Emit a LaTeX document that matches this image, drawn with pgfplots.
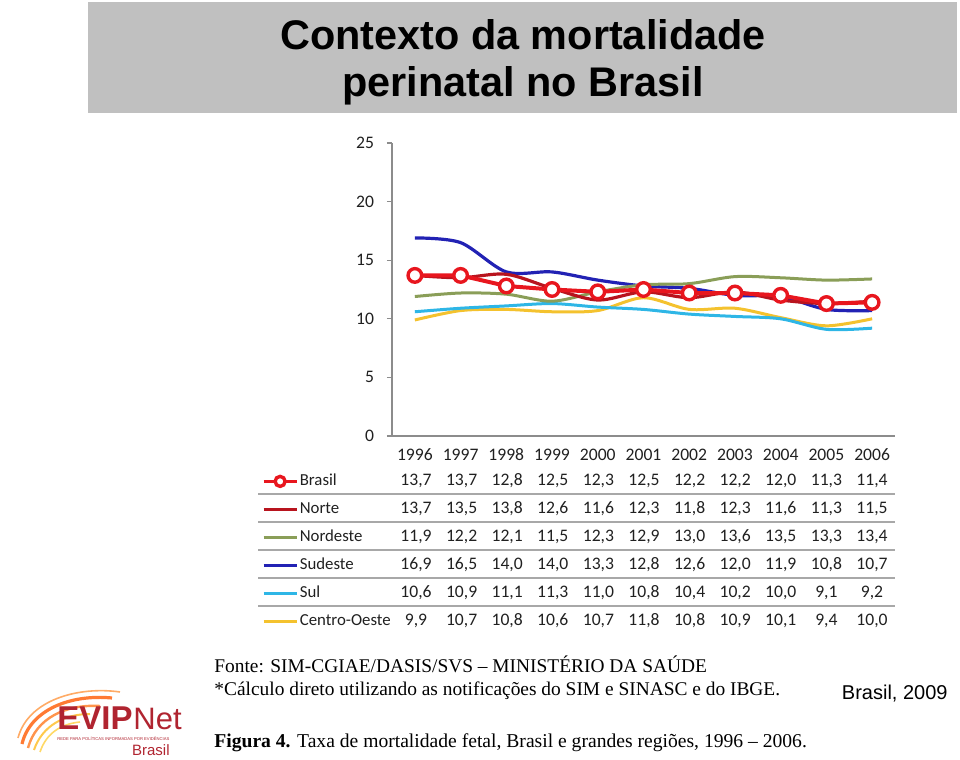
\documentclass[border=0pt]{standalone}
\usepackage{pgfplots}
\pgfplotsset{compat=1.18}
\usepackage{pgfplotstable}
\usepackage{fontspec}
\setmainfont{Liberation Sans}
\newfontfamily\cali{Carlito}
\newfontfamily\tms{Liberation Serif}
\definecolor{titlegray}{HTML}{C0C0C0}
\definecolor{cbrasil}{HTML}{E8161E}
\definecolor{cnorte}{HTML}{B8141E}
\definecolor{cnordeste}{HTML}{8A9E58}
\definecolor{csudeste}{HTML}{2222B4}
\definecolor{csul}{HTML}{2EB6E6}
\definecolor{cco}{HTML}{F4C22E}
\definecolor{sepgray}{HTML}{A8A8A8}
\definecolor{axgray}{HTML}{8C8C8C}
\definecolor{logored}{HTML}{B02430}
\definecolor{txt}{HTML}{202020}

\pgfplotstableread{
x brasil norte nordeste sudeste sul co
0 13.7 13.7 11.9 16.9 10.6 9.9
1 13.7 13.5 12.2 16.5 10.9 10.7
2 12.8 13.8 12.1 14.0 11.1 10.8
3 12.5 12.6 11.5 14.0 11.3 10.6
4 12.3 11.6 12.3 13.3 11.0 10.7
5 12.5 12.3 12.9 12.8 10.8 11.8
6 12.2 11.8 13.0 12.6 10.4 10.8
7 12.2 12.3 13.6 12.0 10.2 10.9
8 12.0 11.6 13.5 11.9 10.0 10.1
9 11.3 11.3 13.3 10.8 9.1 9.4
10 11.4 11.5 13.4 10.7 9.2 10.0
}\datatable

\begin{document}
\begin{tikzpicture}[x=0.5pt,y=0.5pt]
\useasboundingbox (0,0) rectangle (960,760);
% title box
\fill[titlegray] (88,647) rectangle (957,758);
\node[anchor=base, inner sep=0pt, font=\fontsize{20.7}{24}\selectfont\bfseries] at (523,710) {Contexto da mortalidade};
\node[anchor=base, inner sep=0pt, font=\fontsize{20.7}{24}\selectfont\bfseries] at (523,663) {perinatal no Brasil};

% table separators
\foreach \yy in {266,238,210,182,154} {
  \draw[sepgray, line width=0.8pt] (258,\yy) -- (895,\yy);
}

\begin{axis}[
  at={(196pt,162pt)}, anchor=south west, scale only axis,
  width=251.5pt, height=146.5pt,
  xmin=-0.5, xmax=10.5, ymin=0, ymax=25,
  axis x line=bottom, axis y line=left,
  axis line style={draw=axgray, line width=0.6pt, -},
  xtick={0,1,2,3,4,5,6,7,8,9,10},
  xticklabels={1996,1997,1998,1999,2000,2001,2002,2003,2004,2005,2006},
  ytick={0,5,10,15,20,25},
  /pgf/number format/assume math mode=true,
  tick align=outside, major tick length=2.5pt,
  x tick style={draw=none},
  y tick style={draw=axgray, line width=0.6pt},
  ticklabel style={font=\cali\fontsize{8.8}{10}\selectfont, text=txt},
  xticklabel style={anchor=base, text height=6.5pt, text depth=0pt, yshift=-10pt},
  yticklabel style={xshift=-3pt},
  clip=false,
  reverse legend,
  legend cell align=left,
  legend style={at={(-0.2584,-0.1058)}, anchor=north west, draw=none, fill=none,
     inner sep=0pt, row sep=0pt, column sep=1pt,
     font=\cali\fontsize{8.4}{9}\selectfont, text=txt,
     nodes={inner sep=0pt, text height=9pt, text depth=5pt}},
  legend image code/.code={\draw[mark repeat=2,mark phase=2,#1] plot coordinates {(0pt,0pt) (8.25pt,0pt) (16.5pt,0pt)};},
  legend image post style={line width=1.2pt, mark size=2.5pt},
]
\addplot[cco, line width=1.5pt, smooth, no markers] table[x=x,y=co] {\datatable};
\addlegendentry{Centro-Oeste}
\addplot[csul, line width=1.5pt, smooth, no markers] table[x=x,y=sul] {\datatable};
\addlegendentry{Sul}
\addplot[csudeste, line width=1.6pt, smooth, no markers] table[x=x,y=sudeste] {\datatable};
\addlegendentry{Sudeste}
\addplot[cnordeste, line width=1.5pt, smooth, no markers] table[x=x,y=nordeste] {\datatable};
\addlegendentry{Nordeste}
\addplot[cnorte, line width=1.6pt, smooth, no markers] table[x=x,y=norte] {\datatable};
\addlegendentry{Norte}
\addplot[cbrasil, line width=2pt, mark=*, mark size=3.4pt,
  mark options={fill=white, draw=cbrasil, line width=1.7pt, solid}] table[x=x,y=brasil] {\datatable};
\addlegendentry{Brasil}
\end{axis}

% table values
\begin{scope}[every node/.style={anchor=base, inner sep=0pt, text=txt, font=\cali\fontsize{8.8}{10}\selectfont}]
\foreach \v [count=\i from 0] in {{13,7},{13,7},{12,8},{12,5},{12,3},{12,5},{12,2},{12,2},{12,0},{11,3},{11,4}}
  \node at ({416+45.6*\i},274) {\v};
\foreach \v [count=\i from 0] in {{13,7},{13,5},{13,8},{12,6},{11,6},{12,3},{11,8},{12,3},{11,6},{11,3},{11,5}}
  \node at ({416+45.6*\i},246) {\v};
\foreach \v [count=\i from 0] in {{11,9},{12,2},{12,1},{11,5},{12,3},{12,9},{13,0},{13,6},{13,5},{13,3},{13,4}}
  \node at ({416+45.6*\i},218) {\v};
\foreach \v [count=\i from 0] in {{16,9},{16,5},{14,0},{14,0},{13,3},{12,8},{12,6},{12,0},{11,9},{10,8},{10,7}}
  \node at ({416+45.6*\i},190) {\v};
\foreach \v [count=\i from 0] in {{10,6},{10,9},{11,1},{11,3},{11,0},{10,8},{10,4},{10,2},{10,0},{9,1},{9,2}}
  \node at ({416+45.6*\i},162) {\v};
\foreach \v [count=\i from 0] in {{9,9},{10,7},{10,8},{10,6},{10,7},{11,8},{10,8},{10,9},{10,1},{9,4},{10,0}}
  \node at ({416+45.6*\i},134) {\v};
\end{scope}

% footnotes
\node[anchor=base west, inner sep=0pt, font=\tms\fontsize{9.7}{11}\selectfont] at (214,87) {Fonte: SIM-CGIAE/DASIS/SVS – MINISTÉRIO DA SAÚDE};
\node[anchor=base west, inner sep=0pt, font=\tms\fontsize{9.7}{11}\selectfont] at (214,64) {*Cálculo direto utilizando as notificações do SIM e SINASC e do IBGE.};
\node[anchor=base west, inner sep=0pt, font=\tms\fontsize{9.8}{11}\selectfont] at (214,12) {\textbf{Figura 4.} Taxa de mortalidade fetal, Brasil e grandes regiões, 1996 – 2006.};

% right note
\node[anchor=base east, inner sep=0pt, font=\fontsize{10}{12}\selectfont] at (948,60) {Brasil, 2009};

% logo
\begin{scope}
\draw[orange!70!red, line width=1.6pt, opacity=0.8] (22,16) .. controls (30,50) and (70,66) .. (112,62);
\draw[orange!80!red, line width=1.2pt, opacity=0.7] (28,12) .. controls (36,42) and (66,56) .. (100,54);
\draw[orange!60!yellow, line width=1.0pt, opacity=0.7] (34,10) .. controls (42,34) and (64,46) .. (90,46);
\draw[orange!90!red, line width=0.8pt, opacity=0.6] (18,22) .. controls (28,60) and (78,74) .. (120,68);
\draw[orange!50!yellow, line width=0.8pt, opacity=0.6] (40,8) .. controls (46,26) and (60,36) .. (80,38);
\end{scope}
\node[anchor=base west, inner sep=0pt, text=logored, font=\fontsize{16.5}{18}\selectfont\bfseries] (evip) at (57,30) {EVIP};
\node[anchor=base west, inner sep=0pt, text=logored, font=\fontsize{15.5}{18}\selectfont] at (evip.base east) {Net};
\node[anchor=base west, inner sep=0pt, text=logored] at (57,19) {\resizebox{56pt}{!}{\tiny REDE PARA POLÍTICAS INFORMADAS POR EVIDÊNCIAS}};
\node[anchor=base east, inner sep=0pt, text=logored, font=\fontsize{7.5}{8}\selectfont] at (170,4) {Brasil};
\end{tikzpicture}
\end{document}
